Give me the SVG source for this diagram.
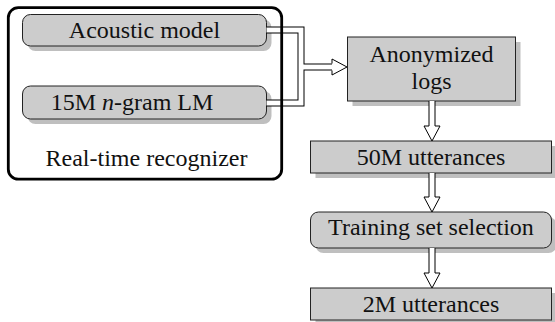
<svg xmlns="http://www.w3.org/2000/svg" width="555" height="322" viewBox="0 0 555 322">
<style>
.box{fill:#cccccc;stroke:#222;stroke-width:1}
.sh{fill:#bfbfbf;stroke:none}
.t{font-family:'Liberation Serif','Times New Roman',serif;font-size:24px;fill:#111;text-anchor:middle}
.dblk{fill:none;stroke:#000;stroke-width:7}
.dwht{fill:none;stroke:#fff;stroke-width:5}
.arr{fill:#fff;stroke:#000;stroke-width:1;stroke-linejoin:miter}
.frame{fill:none;stroke:#000;stroke-width:2.8}
</style>
<rect width="555" height="322" fill="#fff"/>
<g id="acoustic">
<rect class="sh" x="27.5" y="19.5" width="244" height="31.5" rx="8"/>
<rect class="box" x="22.5" y="14.5" width="244" height="31.5" rx="8"/>
<text class="t" x="144.5" y="37.5">Acoustic model</text>
</g>
<g id="lm">
<rect class="sh" x="27.5" y="91" width="244" height="33" rx="8"/>
<rect class="box" x="22.5" y="86" width="244" height="33" rx="8"/>
<text class="t" x="132" y="110">15M <tspan font-style="italic">n</tspan>-gram LM</text>
</g>
<g id="anonymized">
<rect class="sh" x="352.5" y="42" width="168" height="64"/>
<rect class="box" x="347.5" y="37" width="168" height="64"/>
<text class="t" x="431.5" y="62">Anonymized</text>
<text class="t" x="431.5" y="89">logs</text>
</g>
<g id="utt50m">
<rect class="sh" x="315.5" y="146" width="241" height="32"/>
<rect class="box" x="310.5" y="141" width="241" height="32"/>
<text class="t" x="431" y="165">50M utterances</text>
</g>
<g id="selection">
<rect class="sh" x="315.5" y="217" width="241" height="36" rx="8"/>
<rect class="box" x="310.5" y="212" width="241" height="36" rx="8"/>
<text class="t" x="431" y="235">Training set selection</text>
</g>
<g id="utt2m">
<rect class="sh" x="315.5" y="293" width="241" height="32"/>
<rect class="box" x="310.5" y="288" width="241" height="32"/>
<text class="t" x="431" y="311.5">2M utterances</text>
</g>
<g id="connectors">
<path class="dblk" d="M266.5,30 H301 V103 H266.5 M301,67 H332.5"/>
<path class="dwht" d="M266.5,30 H301 V103 H266.5 M301,67 H333"/>
<path class="arr" d="M332,63.5 V59 L347,67 L332,75 V70.5"/>
<path class="arr" d="M429,101 V126 H424 L432,141 L440,126 H435 V101"/>
<path class="arr" d="M429,173 V197 H424 L432,212 L440,197 H435 V173"/>
<path class="arr" d="M429,248 V273 H424 L432,288 L440,273 H435 V248"/>
</g>
<g id="recognizer">
<rect class="frame" x="8.3" y="7.7" width="273.4" height="171.5" rx="10"/>
<text class="t" x="146.5" y="166">Real-time recognizer</text>
</g>
</svg>
